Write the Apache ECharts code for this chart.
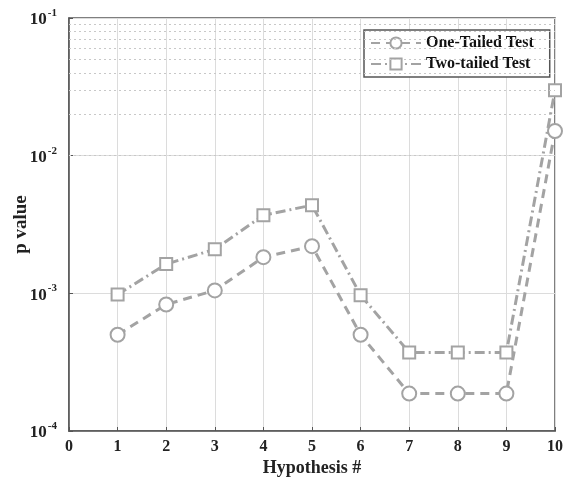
<!DOCTYPE html>
<html><head><meta charset="utf-8">
<script src="https://cdn.jsdelivr.net/npm/echarts@6/dist/echarts.min.js"></script>
<style>html,body{margin:0;padding:0;background:#fff}#c{width:565px;height:479px}</style>
</head><body><div id="c"></div>
<script>
var hypotheses = [1, 2, 3, 4, 5, 6, 7, 8, 9, 10];
var oneTailed = [0.00050, 0.00083, 0.00105, 0.00183, 0.0022, 0.00050, 0.000187, 0.000187, 0.000187, 0.0151];
var twoTailed = [0.00098, 0.00163, 0.00209, 0.00369, 0.00437, 0.00097, 0.000372, 0.000372, 0.000372, 0.0299];
var yMin = 1e-4, yMax = 1e-1;
var xMin = 0, xMax = 10;

var minorLines = [];
[1e-4, 1e-3, 1e-2].forEach(function (d) {
  for (var k = 2; k <= 9; k++) minorLines.push({ yAxis: k * d });
});

var gray = '#a3a3a3';
var font = '"Liberation Serif", "Times New Roman", serif';

function pair(xs, ys) { return xs.map(function (x, i) { return [x, ys[i]]; }); }

var chart = echarts.init(document.getElementById('c'));
chart.setOption({
  animation: false,
  textStyle: { fontFamily: font },
  grid: { left: 69, right: 10, top: 18, bottom: 48, containLabel: false, outerBoundsMode: 'none',
    show: true, borderColor: '#555', borderWidth: 1.5, backgroundColor: 'transparent' },
  legend: {
    orient: 'vertical', left: 364, top: 30, itemWidth: 50, itemHeight: 14, itemGap: 5,
    padding: [5, 16, 5, 6], borderColor: '#555', borderWidth: 1.5, backgroundColor: '#fff',
    textStyle: { fontFamily: font, fontWeight: 'bold', fontSize: 16, color: '#111' },
    data: ['One-Tailed Test', 'Two-tailed Test']
  },
  xAxis: {
    type: 'value', min: xMin, max: xMax, interval: 1,
    name: 'Hypothesis #', nameLocation: 'middle', nameGap: 28, nameMoveOverlap: false,
    nameTextStyle: { fontFamily: font, fontWeight: 'bold', fontSize: 18, color: '#222' },
    axisLine: { lineStyle: { color: '#555', width: 1.5 } },
    axisTick: { inside: true, length: 4, lineStyle: { color: '#555' } },
    axisLabel: { fontFamily: font, fontWeight: 'bold', fontSize: 16, color: '#222', margin: 8 },
    splitLine: { show: true, lineStyle: { color: '#dcdcdc', width: 1 } }
  },
  yAxis: {
    type: 'log', min: yMin, max: yMax, logBase: 10,
    name: 'p value', nameLocation: 'middle', nameGap: 38, nameMoveOverlap: false,
    nameTextStyle: { fontFamily: font, fontWeight: 'bold', fontSize: 19, color: '#222' },
    axisLine: { lineStyle: { color: '#555', width: 1.5 } },
    axisTick: { inside: true, length: 4, lineStyle: { color: '#555' } },
    axisLabel: {
      margin: 12,
      formatter: function (v) { var e = Math.round(Math.log10(v)); return '{b|10}{s|' + e + '}'; },
      rich: {
        b: { fontFamily: font, fontWeight: 'bold', fontSize: 17, color: '#222', verticalAlign: 'bottom' },
        s: { fontFamily: font, fontWeight: 'bold', fontSize: 11, color: '#222', verticalAlign: 'top', padding: [0, 0, 10, 1] }
      }
    },
    splitLine: { show: true, lineStyle: { color: '#dcdcdc', width: 1 } }
  },
  series: [
    {
      name: 'grid-minor', type: 'line', data: [], silent: true,
      markLine: { silent: true, symbol: 'none', label: { show: false },
        lineStyle: { type: [2, 3], color: '#c8c8c8', width: 1 }, data: minorLines }
    },
    {
      name: 'One-Tailed Test', type: 'line', data: pair(hypotheses, oneTailed),
      symbol: 'emptyCircle', symbolSize: 14, z: 3,
      lineStyle: { color: gray, width: 3, type: [9, 6] },
      itemStyle: { color: gray, borderColor: gray, borderWidth: 2.5 }
    },
    {
      name: 'Two-tailed Test', type: 'line', data: pair(hypotheses, twoTailed),
      symbol: 'emptyRect', symbolSize: 12, z: 4,
      lineStyle: { color: gray, width: 3, type: [10, 4, 2, 4] },
      itemStyle: { color: gray, borderColor: gray, borderWidth: 2.5 }
    }
  ]
});
</script></body></html>
